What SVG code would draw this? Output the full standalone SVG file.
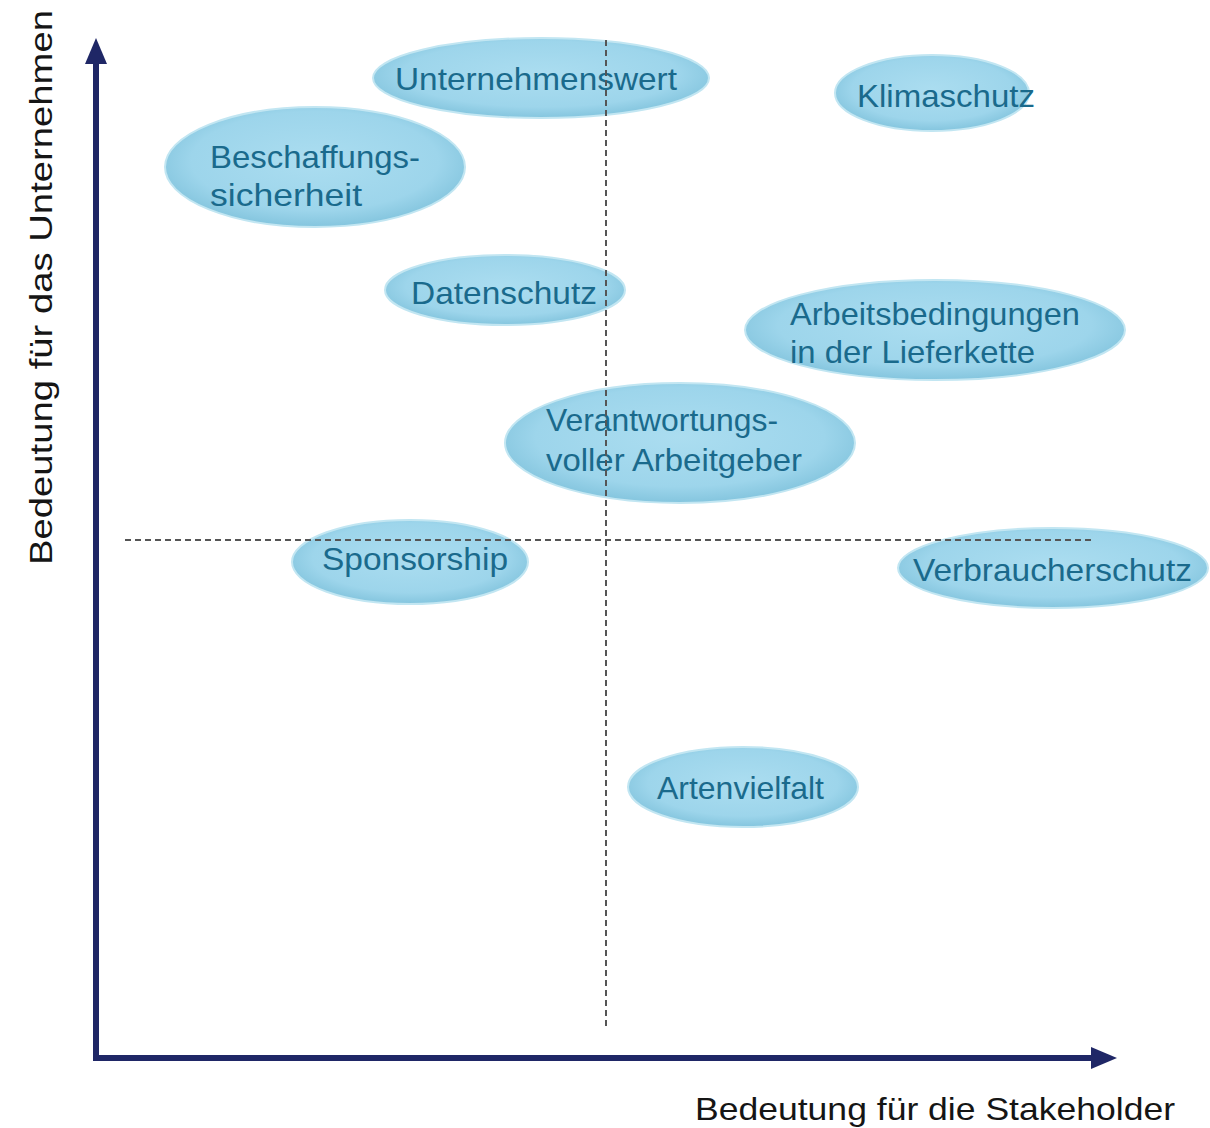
<svg xmlns="http://www.w3.org/2000/svg" width="1210" height="1128" viewBox="0 0 1210 1128">
  <defs>
    <radialGradient id="bubble" cx="50%" cy="45%" r="55%">
      <stop offset="0" stop-color="#abddf0"/>
      <stop offset="0.75" stop-color="#9dd5eb"/>
      <stop offset="1" stop-color="#84c5de"/>
    </radialGradient>
  </defs>
  <style>
    .bubble { fill: url(#bubble); stroke: #c2e6f2; stroke-width: 2; }
    .lbl { font-family: "Liberation Sans", Arial, sans-serif; font-size: 32px; fill: #1a6a8c; }
    .axis { font-family: "Liberation Sans", Arial, sans-serif; font-size: 32px; fill: #151515; }
    .grid { stroke: #555; stroke-width: 2; stroke-dasharray: 6 4; fill: none; }
    .ax { stroke: #1f2766; stroke-width: 6; fill: none; }
  </style>
  <rect width="1210" height="1128" fill="#ffffff"/>

  <!-- nodes -->
  <g id="unternehmenswert">
    <ellipse class="bubble" cx="541" cy="78" rx="168" ry="40"/>
    <text class="lbl" x="395" y="90" textLength="282" lengthAdjust="spacingAndGlyphs">Unternehmenswert</text>
  </g>
  <g id="klimaschutz">
    <ellipse class="bubble" cx="932" cy="93" rx="97" ry="38"/>
    <text class="lbl" x="857" y="107" textLength="178" lengthAdjust="spacingAndGlyphs">Klimaschutz</text>
  </g>
  <g id="beschaffung">
    <ellipse class="bubble" cx="315" cy="167" rx="150" ry="60"/>
    <text class="lbl" x="210" y="168" textLength="210" lengthAdjust="spacingAndGlyphs">Beschaffungs-</text>
    <text class="lbl" x="210" y="206" textLength="152" lengthAdjust="spacingAndGlyphs">sicherheit</text>
  </g>
  <g id="datenschutz">
    <ellipse class="bubble" cx="505" cy="290" rx="120" ry="35"/>
    <text class="lbl" x="411" y="304" textLength="186" lengthAdjust="spacingAndGlyphs">Datenschutz</text>
  </g>
  <g id="arbeitsbedingungen">
    <ellipse class="bubble" cx="935" cy="330" rx="190" ry="50"/>
    <text class="lbl" x="790" y="325" textLength="290" lengthAdjust="spacingAndGlyphs">Arbeitsbedingungen</text>
    <text class="lbl" x="790" y="363" textLength="245" lengthAdjust="spacingAndGlyphs">in der Lieferkette</text>
  </g>
  <g id="arbeitgeber">
    <ellipse class="bubble" cx="680" cy="443" rx="175" ry="60"/>
    <text class="lbl" x="546" y="431" textLength="232" lengthAdjust="spacingAndGlyphs">Verantwortungs-</text>
    <text class="lbl" x="546" y="471" textLength="256" lengthAdjust="spacingAndGlyphs">voller Arbeitgeber</text>
  </g>
  <g id="sponsorship">
    <ellipse class="bubble" cx="410" cy="562" rx="118" ry="42"/>
    <text class="lbl" x="322" y="570" textLength="186" lengthAdjust="spacingAndGlyphs">Sponsorship</text>
  </g>
  <g id="verbraucherschutz">
    <ellipse class="bubble" cx="1053" cy="568" rx="155" ry="40"/>
    <text class="lbl" x="913" y="581" textLength="279" lengthAdjust="spacingAndGlyphs">Verbraucherschutz</text>
  </g>
  <g id="artenvielfalt">
    <ellipse class="bubble" cx="743" cy="787" rx="115" ry="40"/>
    <text class="lbl" x="657" y="799" textLength="167" lengthAdjust="spacingAndGlyphs">Artenvielfalt</text>
  </g>

  <!-- quadrant grid, drawn over the bubbles -->
  <g id="grid">
    <line class="grid" x1="606" y1="40" x2="606" y2="1030"/>
    <line class="grid" x1="125" y1="540" x2="1095" y2="540"/>
  </g>

  <!-- axes -->
  <g id="connectors">
    <polyline class="ax" points="96,62 96,1058 1092,1058"/>
    <path d="M96,38 L85,64 L107,64 Z" fill="#1f2766"/>
    <path d="M1117,1058 L1091,1047 L1091,1069 Z" fill="#1f2766"/>
  </g>

  <!-- axis titles -->
  <g id="axis-labels">
    <text class="axis" transform="translate(52,565) rotate(-90)" textLength="555" lengthAdjust="spacingAndGlyphs">Bedeutung für das Unternehmen</text>
    <text class="axis" x="695" y="1120" textLength="480" lengthAdjust="spacingAndGlyphs">Bedeutung für  die Stakeholder</text>
  </g>
</svg>
